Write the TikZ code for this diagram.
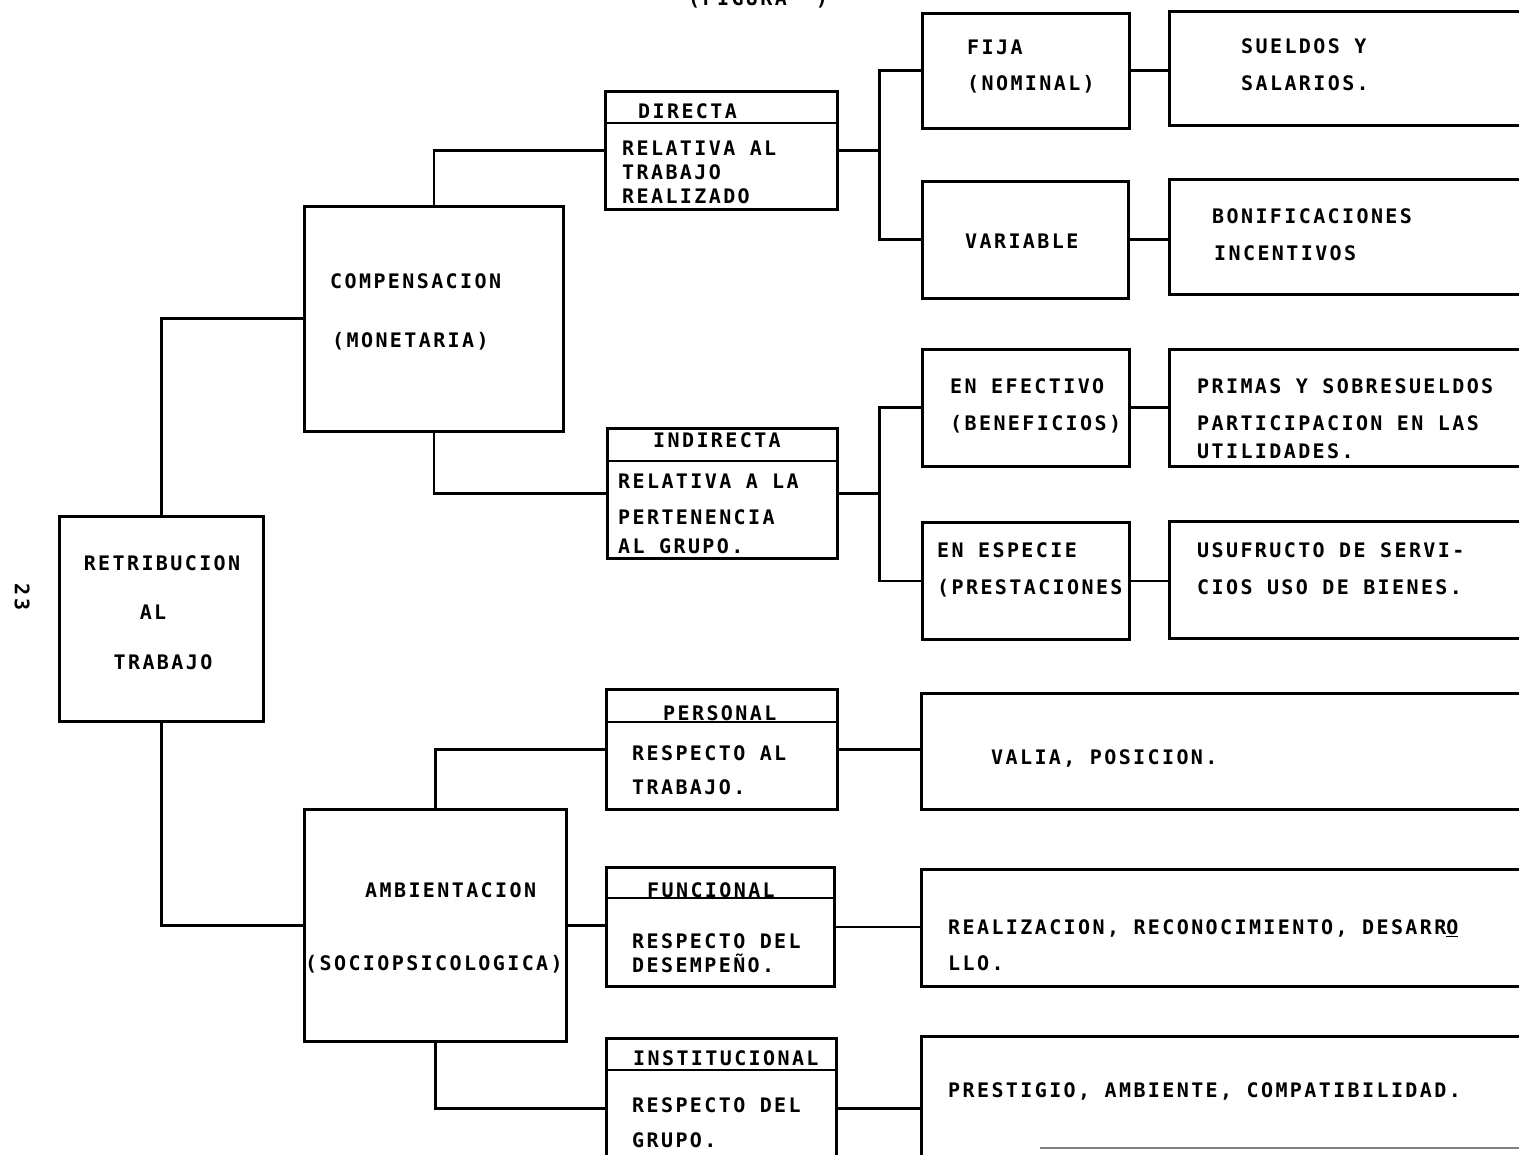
\documentclass[tikz,border=0pt]{standalone}
\usepackage{fontspec}
\newfontfamily\tw{DejaVu Sans Mono}[LetterSpace=12]
\begin{document}
\begin{tikzpicture}[x=1pt,y=-1pt,
  bx/.style={draw, line width=2.6pt, inner sep=0pt, anchor=north west},
  ln/.style={line width=2.6pt},
  txt/.style={font=\tw\bfseries\fontsize{20}{22}\selectfont, inner sep=0pt, text height=14.5pt, text depth=0pt, anchor=west}]
\useasboundingbox (0,0) rectangle (1519,1155);
% boxes
\node[bx, minimum width=204pt, minimum height=205pt] (retrib) at (58,515) {};
\node[bx, minimum width=259pt, minimum height=225pt] (comp) at (303,205) {};
\node[bx, minimum width=262pt, minimum height=232pt] (amb) at (303,808) {};
\node[bx, minimum width=232pt, minimum height=118pt] (dir) at (604,90) {};
\node[bx, minimum width=230pt, minimum height=130pt] (indir) at (606,427) {};
\node[bx, minimum width=231pt, minimum height=120pt] (pers) at (605,688) {};
\node[bx, minimum width=228pt, minimum height=119pt] (func) at (605,866) {};
\node[bx, minimum width=230pt, minimum height=140pt] (inst) at (605,1037) {};
\node[bx, minimum width=207pt, minimum height=115pt] (fija) at (921,12) {};
\node[bx, minimum width=206pt, minimum height=117pt] (var) at (921,180) {};
\node[bx, minimum width=207pt, minimum height=117pt] (efec) at (921,348) {};
\node[bx, minimum width=207pt, minimum height=117pt] (esp) at (921,521) {};
\node[bx, minimum width=380pt, minimum height=114pt] (sueld) at (1168,10) {};
\node[bx, minimum width=380pt, minimum height=115pt] (bonif) at (1168,178) {};
\node[bx, minimum width=380pt, minimum height=117pt] (primas) at (1168,348) {};
\node[bx, minimum width=380pt, minimum height=117pt] (usuf) at (1168,520) {};
\node[bx, minimum width=630pt, minimum height=116pt] (valia) at (920,692) {};
\node[bx, minimum width=630pt, minimum height=117pt] (realiz) at (920,868) {};
\node[bx, minimum width=630pt, minimum height=140pt] (prest) at (920,1035) {};
% dividers
\draw[ln] ([yshift=-33pt]dir.north west) -- ([yshift=-33pt]dir.north east);
\draw[ln] ([yshift=-34pt]indir.north west) -- ([yshift=-34pt]indir.north east);
\draw[ln] ([yshift=-34pt]pers.north west) -- ([yshift=-34pt]pers.north east);
\draw[ln] ([yshift=-32pt]func.north west) -- ([yshift=-32pt]func.north east);
\draw[ln] ([yshift=-33pt]inst.north west) -- ([yshift=-33pt]inst.north east);
\draw[line width=1.4pt, gray] (1040,1148) -- (1519,1148);
% junctions
\coordinate (j1) at ([xshift=41pt]dir.east);
\coordinate (j2) at ([xshift=41pt]indir.east);
% connectors
\draw[ln] (retrib.north) |- (comp.west);
\draw[ln] (retrib.south) |- (amb.west);
\draw[ln] (comp.north) |- (dir.west);
\draw[ln] (comp.south) |- (indir.west);
\draw[ln] (amb.north) |- (pers.west);
\draw[ln] (amb.east) -- (amb.east -| func.west);
\draw[ln] (amb.south) |- (inst.west);
\draw[ln] (dir.east) -- (j1);
\draw[ln] (fija.west) -| (j1) |- (var.west);
\draw[ln] (indir.east) -- (j2);
\draw[ln] (efec.west) -| (j2) |- (esp.west);
\draw[ln] (fija.east) -- (fija.east -| sueld.west);
\draw[ln] (var.east) -- (var.east -| bonif.west);
\draw[ln] (efec.east) -- (efec.east -| primas.west);
\draw[ln] (esp.east) -- (esp.east -| usuf.west);
\draw[ln] (pers.east) -- (pers.east -| valia.west);
\draw[ln] (func.east) -- (func.east -| realiz.west);
\draw[ln] (inst.east) -- (inst.east -| prest.west);
% texts
\node[txt, anchor=center] (fig) at (758,-2) {(FIGURA\ \ )};
\node[txt, anchor=center, rotate=-90] (pg) at (22,597) {23};
\node[txt, anchor=center] (r1) at (162,563) {RETRIBUCION};
\node[txt, anchor=center] (r2) at (153,612) {AL};
\node[txt, anchor=center] (r3) at (163,662) {TRABAJO};
\node[txt] (c1) at (330,281) {COMPENSACION};
\node[txt] (c2) at (332,340) {(MONETARIA)};
\node[txt] (a1) at (365,890) {AMBIENTACION};
\node[txt] (a2) at (305,963) {(SOCIOPSICOLOGICA)};
\node[txt] (d0) at (638,111) {DIRECTA};
\node[txt] (d1) at (622,148) {RELATIVA AL};
\node[txt] (d2) at (622,172) {TRABAJO};
\node[txt] (d3) at (622,196) {REALIZADO};
\node[txt] (i0) at (653,440) {INDIRECTA};
\node[txt] (i1) at (618,481) {RELATIVA A LA};
\node[txt] (i2) at (618,517) {PERTENENCIA};
\node[txt] (i3) at (618,546) {AL GRUPO.};
\node[txt] (p0) at (663,713) {PERSONAL};
\node[txt] (p1) at (632,753) {RESPECTO AL};
\node[txt] (p2) at (632,787) {TRABAJO.};
\node[txt] (f0) at (647,890) {FUNCIONAL};
\node[txt] (f1) at (632,941) {RESPECTO DEL};
\node[txt] (f2) at (632,965) {DESEMPEÑO.};
\node[txt] (n0) at (633,1058) {INSTITUCIONAL};
\node[txt] (n1) at (632,1105) {RESPECTO DEL};
\node[txt] (n2) at (632,1140) {GRUPO.};
\node[txt] (fj1) at (967,47) {FIJA};
\node[txt] (fj2) at (967,83) {(NOMINAL)};
\node[txt] (v1) at (965,241) {VARIABLE};
\node[txt] (e1) at (950,386) {EN EFECTIVO};
\node[txt] (e2) at (950,423) {(BENEFICIOS)};
\node[txt] (s1) at (937,550) {EN ESPECIE};
\node[txt] (s2) at (937,587) {(PRESTACIONES};
\node[txt] (sa1) at (1241,46) {SUELDOS Y};
\node[txt] (sa2) at (1241,83) {SALARIOS.};
\node[txt] (b1) at (1212,216) {BONIFICACIONES};
\node[txt] (b2) at (1214,253) {INCENTIVOS};
\node[txt] (pr1) at (1197,386) {PRIMAS Y SOBRESUELDOS};
\node[txt] (pr2) at (1197,423) {PARTICIPACION EN LAS};
\node[txt] (pr3) at (1197,451) {UTILIDADES.};
\node[txt] (u1) at (1197,550) {USUFRUCTO DE SERVI-};
\node[txt] (u2) at (1197,587) {CIOS USO DE BIENES.};
\node[txt] (va1) at (991,757) {VALIA, POSICION.};
\node[txt] (re1) at (948,927) {REALIZACION, RECONOCIMIENTO, DESARR\underline{O}};
\node[txt] (re2) at (948,963) {LLO.};
\node[txt] (pe1) at (948,1090) {PRESTIGIO, AMBIENTE, COMPATIBILIDAD.};
\end{tikzpicture}
\end{document}
